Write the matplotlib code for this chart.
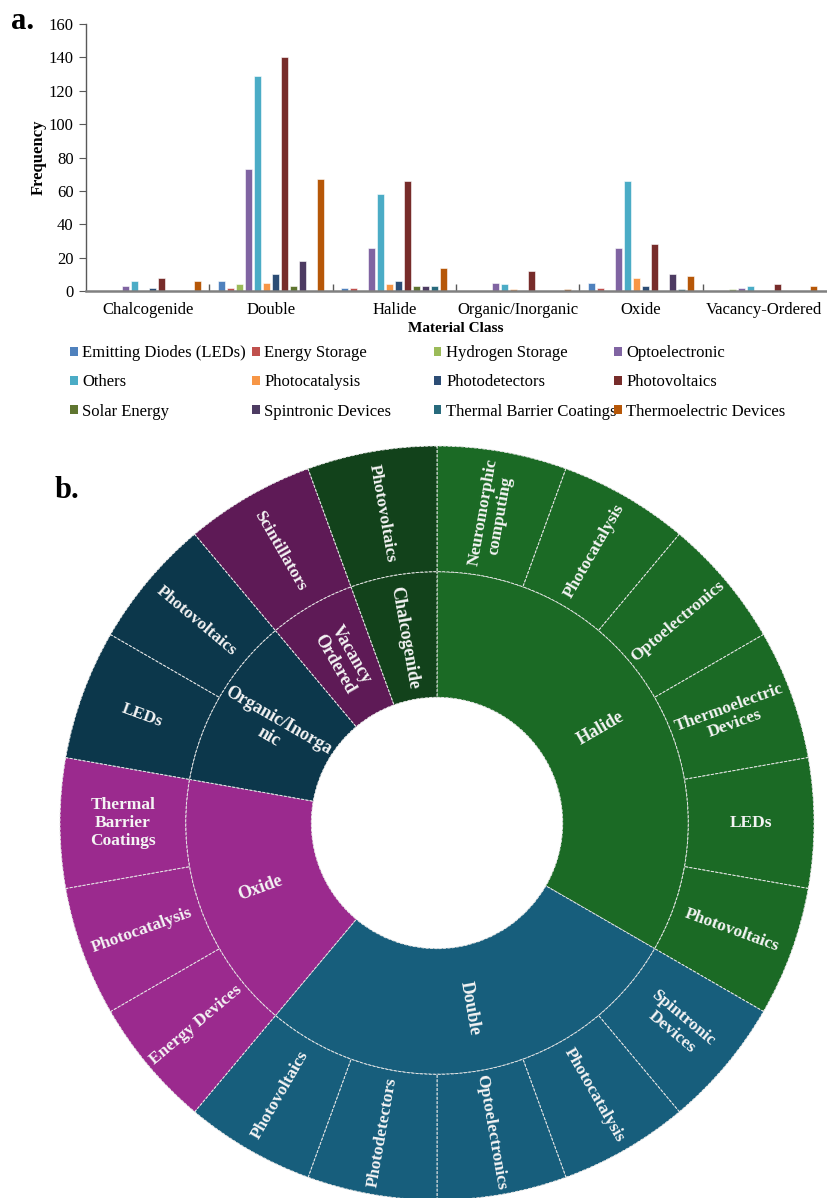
import numpy as np
import matplotlib
matplotlib.use("Agg")
import matplotlib.pyplot as plt
from matplotlib.patches import Patch

plt.rcParams['font.family'] = ['Liberation Serif', 'DejaVu Serif']

# ---- panel a data ----
categories = ['Chalcogenide', 'Double', 'Halide', 'Organic/Inorganic', 'Oxide', 'Vacancy-Ordered']
applications = ['Emitting Diodes (LEDs)', 'Energy Storage', 'Hydrogen Storage', 'Optoelectronic',
                'Others', 'Photocatalysis', 'Photodetectors', 'Photovoltaics',
                'Solar Energy', 'Spintronic Devices', 'Thermal Barrier Coatings', 'Thermoelectric Devices']
app_colors = ['#4f81bd', '#c0504d', '#9bbb59', '#8064a2', '#4bacc6', '#f79646',
              '#2c4d75', '#772c2a', '#5f7530', '#4d3b62', '#276a7c', '#b65708']

leds = [0, 6, 2, 0, 5, 0]
energy_storage = [0, 2, 2, 0, 2, 0]
hydrogen_storage = [0, 4, 0, 0, 0, 1]
optoelectronic = [3, 73, 26, 5, 26, 2]
others = [6, 129, 58, 4, 66, 3]
photocatalysis = [0, 5, 4, 1, 8, 0]
photodetectors = [2, 10, 6, 0, 3, 0]
photovoltaics = [8, 140, 66, 12, 28, 4]
solar_energy = [0, 3, 3, 0, 0, 0]
spintronic = [0, 18, 3, 0, 10, 0]
thermal_barrier = [0, 0, 3, 0, 1, 0]
thermoelectric = [6, 67, 14, 1, 9, 3]
series = [leds, energy_storage, hydrogen_storage, optoelectronic, others, photocatalysis,
          photodetectors, photovoltaics, solar_energy, spintronic, thermal_barrier, thermoelectric]

# ---- panel b data ----
sb_classes = ['Halide', 'Double', 'Oxide', 'Organic/Inorga\nnic', 'Vacancy\nOrdered', 'Chalcogenide']
sb_class_sizes = [6, 5, 3, 2, 1, 1]
sb_class_colors = ['#1b6a25', '#175e7c', '#9b2a8e', '#0c374b', '#5e1a56', '#12421b']
sb_apps = ['Neuromorphic\ncomputing', 'Photocatalysis', 'Optoelectronics', 'Thermoelectric\nDevices',
           'LEDs', 'Photovoltaics',
           'Spintronic\nDevices', 'Photocatalysis', 'Optoelectronics', 'Photodetectors', 'Photovoltaics',
           'Energy Devices', 'Photocatalysis', 'Thermal\nBarrier\nCoatings',
           'LEDs', 'Photovoltaics',
           'Scintillators',
           'Photovoltaics']
sb_app_sizes = [1, 1, 1, 1, 1, 1, 1, 1, 1, 1, 1, 1, 1, 1, 1, 1, 1, 1]

fig = plt.figure(figsize=(8.27, 11.98), dpi=100)
W, H = 827, 1198

# ===== a. grouped bar chart =====
ax = fig.add_axes([86 / W, 1 - 291 / H, 740 / W, 267 / H])
x = np.arange(len(categories))
slot = 0.073
bw = 0.058
for i, vals in enumerate(series):
    ax.bar(x + (i - 5.5) * slot, vals, bw, color=app_colors[i], edgecolor='white', linewidth=0.4,
           label=applications[i], zorder=2)

ax.set_xlim(-0.5, len(categories) - 0.5)
ax.set_ylim(0, 160)
ax.set_yticks(range(0, 161, 20))
ax.set_xticks(x)
ax.set_xticklabels(categories, fontsize=12)
ax.set_xticks(np.arange(0.5, len(categories) - 1, 1), minor=True)
ax.tick_params(axis='x', which='major', length=0, pad=8)
ax.tick_params(axis='x', which='minor', direction='in', length=5, color='#595959', width=1)
ax.tick_params(axis='y', direction='out', length=5, color='#595959', labelsize=12, pad=4)
for s in ['top', 'right']:
    ax.spines[s].set_visible(False)
ax.spines['bottom'].set_color('#808080')
ax.spines['bottom'].set_linewidth(1.8)
ax.spines['left'].set_color('#595959')
ax.spines['left'].set_linewidth(1)
ax.set_ylabel('Frequency', fontsize=12, fontweight='bold', labelpad=1)
ax.set_xlabel('Material Class', fontsize=11, fontweight='bold', labelpad=3)

# legend: 4 evenly spaced columns
col_x = [70, 252, 434, 614]
for c in range(4):
    idx = [c, c + 4, c + 8]
    handles = [Patch(facecolor=app_colors[k], edgecolor='none') for k in idx]
    fig.legend(handles, [applications[k] for k in idx], loc='upper left',
               bbox_to_anchor=(col_x[c] / W, 1 - 345 / H), frameon=False, fontsize=12,
               handlelength=0.45, handleheight=0.45, handletextpad=0.3, labelspacing=0.8,
               borderpad=0, borderaxespad=0)

fig.text(11 / W, 1 - 29 / H, 'a.', fontsize=22, fontweight='bold', ha='left', va='baseline')
fig.text(55 / W, 1 - 498 / H, 'b.', fontsize=22, fontweight='bold', ha='left', va='baseline')

# ===== b. sunburst =====
ax2 = fig.add_axes([60 / W, 1 - 1200 / H, 754 / W, 754 / H])
edge = dict(edgecolor='#e6e6e6', linewidth=0.7, linestyle=(0, (3, 1.5)))
ax2.pie(sb_class_sizes, radius=2, startangle=90, counterclock=False, colors=sb_class_colors,
        wedgeprops=dict(width=1, **edge))
app_colors_b = []
for name_i, n in enumerate(sb_class_sizes):
    app_colors_b += [sb_class_colors[name_i]] * n
ax2.pie(sb_app_sizes, radius=3, startangle=90, counterclock=False, colors=app_colors_b,
        wedgeprops=dict(width=1, **edge))
ax2.set_xlim(-3, 3)
ax2.set_ylim(-3, 3)
ax2.set_aspect('equal')
ax2.axis('off')


def ring_labels(labels, sizes, r, fs):
    total = float(sum(sizes))
    cum = 0.0
    for lab, v in zip(labels, sizes):
        theta = (cum + v / 2.0) / total * 360.0
        cum += v
        t = np.deg2rad(theta)
        rot = 90.0 - theta
        rot = (rot + 180.0) % 360.0 - 180.0
        if rot > 90:
            rot -= 180
        elif rot < -90:
            rot += 180
        ax2.text(r * np.sin(t), r * np.cos(t), lab, rotation=rot, rotation_mode='anchor',
                 ha='center', va='center', multialignment='center', color='#f4f4f4',
                 fontsize=fs, fontweight='bold', linespacing=1.15)


ring_labels(sb_classes, sb_class_sizes, 1.5, 13)
ring_labels(sb_apps, sb_app_sizes, 2.5, 12.5)

fig.savefig('out.png', dpi=100)
